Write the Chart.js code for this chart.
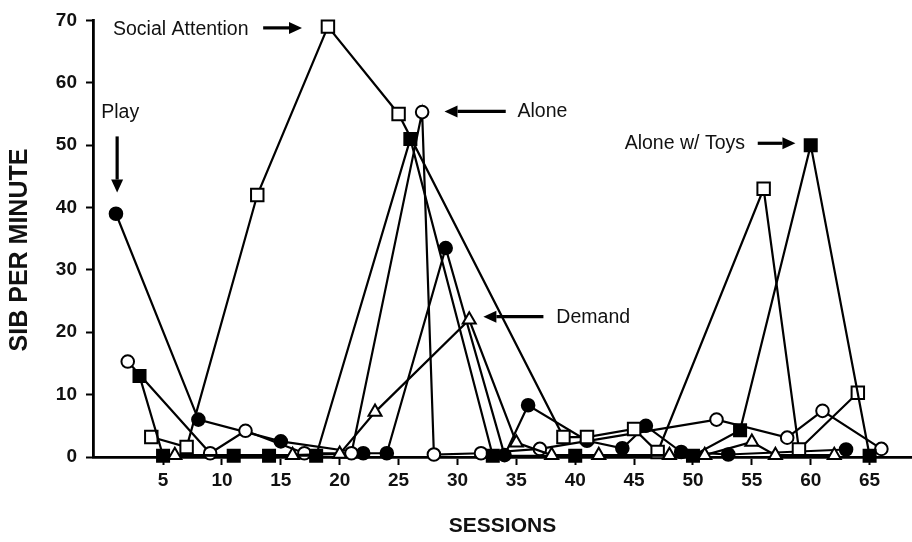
<!DOCTYPE html>
<html>
<head>
<meta charset="utf-8">
<script src="https://cdn.jsdelivr.net/npm/chart.js@4.4.1/dist/chart.umd.min.js"></script>
<style>
  html, body { margin: 0; padding: 0; background: #fff; }
  #wrap { width: 912px; height: 542px; }
</style>
</head>
<body>
<div id="wrap"><canvas id="c" width="912" height="542"></canvas></div>
<script>
// Tick labels
const xTicks = [5, 10, 15, 20, 25, 30, 35, 40, 45, 50, 55, 60, 65];
const yTicks = [0, 10, 20, 30, 40, 50, 60, 70];

// Play (filled circles)
const playSessions = [1, 8, 15, 22, 24, 29, 34, 36, 41, 44, 46, 49, 53, 63];
const playValues   = [39, 6, 2.5, 0.6, 0.6, 33.5, 0.3, 8.3, 2.6, 1.4, 5, 0.8, 0.4, 1.2];

// Social Attention (open squares)
const socialSessions = [4, 7, 13, 19, 25, 39, 41, 45, 47, 56, 59, 64];
const socialValues   = [3.2, 1.6, 42, 69, 55, 3.2, 3.2, 4.5, 0.8, 43, 1.2, 10.3];

// Alone (open circles)
const aloneSessions = [2, 9, 12, 17, 21, 27, 28, 32, 37, 52, 58, 61, 66];
const aloneValues   = [15.3, 0.6, 4.2, 0.6, 0.6, 55.3, 0.4, 0.6, 1.3, 6, 3.1, 7.4, 1.3];

// Demand (open triangles)
const demandSessions = [6, 16, 20, 23, 31, 35, 38, 42, 48, 51, 55, 57, 62];
const demandValues   = [0.3, 0.3, 0.5, 7.2, 22, 2.3, 0.3, 0.3, 0.3, 0.3, 2.4, 0.3, 0.3];

// Alone w/ Toys (filled squares)
const toysSessions = [3, 5, 11, 14, 18, 26, 33, 40, 50, 54, 60, 65];
const toysValues   = [13, 0.2, 0.2, 0.2, 0.2, 51, 0.2, 0.2, 0.2, 4.3, 50, 0.2];

const FONT = '"Liberation Sans", Arial, sans-serif';

function toPoints(xs, ys) {
  return xs.map((x, i) => ({ x: x, y: ys[i] }));
}

function series(label, xs, ys, style, filled, radius) {
  return {
    label: label,
    data: toPoints(xs, ys),
    showLine: true,
    borderColor: '#000',
    borderWidth: 2.2,
    pointStyle: style,
    pointRadius: radius,
    pointHoverRadius: radius,
    pointBorderWidth: 2,
    pointBorderColor: '#000',
    pointBackgroundColor: filled ? '#000' : '#fff',
    clip: false,
    tension: 0
  };
}

// Vertical axis title, condition labels and their arrows
const calloutPlugin = {
  id: 'callouts',
  afterDraw(chart) {
    const ctx = chart.ctx;
    const xs = chart.scales.x, ys = chart.scales.y;
    const px = v => xs.getPixelForValue(v);
    const py = v => ys.getPixelForValue(v);

    ctx.save();
    ctx.fillStyle = '#111';
    ctx.font = 'bold 25px ' + FONT;
    ctx.textAlign = 'center';
    ctx.textBaseline = 'middle';
    ctx.translate(20, 250);
    ctx.rotate(-Math.PI / 2);
    ctx.fillText('SIB PER MINUTE', 0, 0);
    ctx.restore();

    const notes = [
      { t: 'Social Attention', x: 0.75, y: 68.6 },
      { t: 'Play', x: -0.25, y: 55.2 },
      { t: 'Alone', x: 35.1, y: 55.3 },
      { t: 'Demand', x: 38.4, y: 22.3 },
      { t: 'Alone w/ Toys', x: 44.2, y: 50.3 }
    ];
    ctx.save();
    ctx.fillStyle = '#111';
    ctx.font = '19.5px ' + FONT;
    ctx.textAlign = 'left';
    ctx.textBaseline = 'middle';
    notes.forEach(n => ctx.fillText(n.t, px(n.x), py(n.y)));

    const arrows = [
      [13.5, 68.8, 16.8, 68.8],
      [1.1, 51.4, 1.1, 42.4],
      [34.1, 55.4, 28.9, 55.4],
      [37.3, 22.5, 32.2, 22.5],
      [55.5, 50.3, 58.7, 50.3]
    ];
    arrows.forEach(a => {
      const x1 = px(a[0]), y1 = py(a[1]), x2 = px(a[2]), y2 = py(a[3]);
      const ang = Math.atan2(y2 - y1, x2 - x1);
      const head = 13, half = 6;
      const bx = x2 - head * Math.cos(ang), by = y2 - head * Math.sin(ang);
      ctx.strokeStyle = '#000';
      ctx.lineWidth = 3.2;
      ctx.beginPath();
      ctx.moveTo(x1, y1);
      ctx.lineTo(bx, by);
      ctx.stroke();
      ctx.fillStyle = '#000';
      ctx.beginPath();
      ctx.moveTo(x2, y2);
      ctx.lineTo(bx + half * Math.sin(ang), by - half * Math.cos(ang));
      ctx.lineTo(bx - half * Math.sin(ang), by + half * Math.cos(ang));
      ctx.closePath();
      ctx.fill();
    });
    ctx.restore();
  }
};

new Chart(document.getElementById('c'), {
  type: 'scatter',
  data: {
    datasets: [
      series('Demand', demandSessions, demandValues, 'triangle', false, 7.5),
      series('Alone w/ Toys', toysSessions, toysValues, 'rect', true, 8.5),
      series('Social Attention', socialSessions, socialValues, 'rect', false, 8.8),
      series('Alone', aloneSessions, aloneValues, 'circle', false, 6.3),
      series('Play', playSessions, playValues, 'circle', true, 6.3)
    ]
  },
  options: {
    responsive: false,
    animation: false,
    devicePixelRatio: 1,
    layout: { autoPadding: false, padding: { top: 19, right: 0, left: 0, bottom: 0 } },
    plugins: { legend: { display: false }, tooltip: { enabled: false } },
    scales: {
      x: {
        type: 'linear',
        min: -0.95,
        max: 68.6,
        afterBuildTicks: s => { s.ticks = xTicks.map(v => ({ value: v })); },
        afterFit: s => { s.height = 85; },
        border: { display: true, color: '#000', width: 2.8 },
        grid: { display: true, drawOnChartArea: false, drawTicks: true, tickLength: 8, tickWidth: 2, color: '#000' },
        ticks: { color: '#111', padding: 4, maxRotation: 0, autoSkip: false,
                 font: { family: FONT, size: 19, weight: 'bold' } },
        title: { display: true, text: 'SESSIONS', color: '#111', padding: { top: 0, bottom: 3 },
                 font: { family: FONT, size: 21, weight: 'bold' } }
      },
      y: {
        type: 'linear',
        min: 0,
        max: 70,
        afterBuildTicks: s => { s.ticks = yTicks.map(v => ({ value: v })); },
        afterFit: s => { s.width = 93; },
        border: { display: true, color: '#000', width: 2.8 },
        grid: { display: true, drawOnChartArea: false, drawTicks: true, tickLength: 7, tickWidth: 2, color: '#000' },
        ticks: { color: '#111', padding: 9,
                 font: { family: FONT, size: 19, weight: 'bold' } }
      }
    }
  },
  plugins: [calloutPlugin]
});
</script>
</body>
</html>
